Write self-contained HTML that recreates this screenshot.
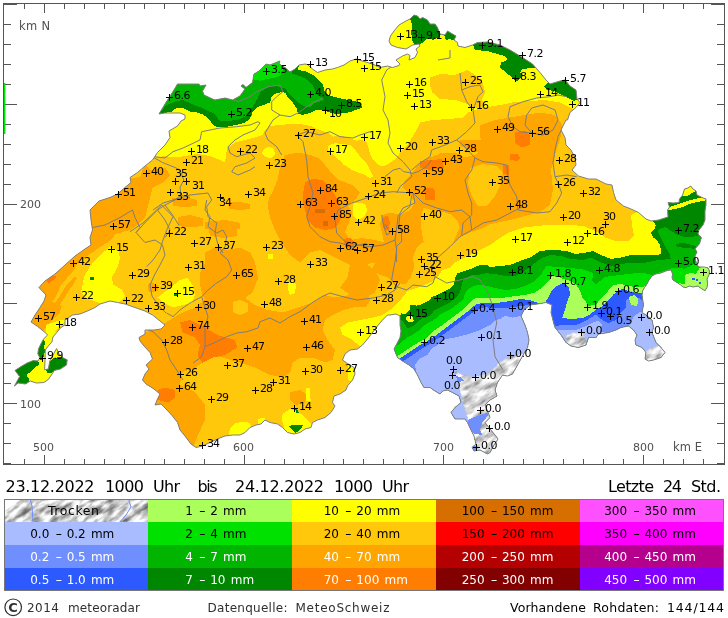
<!DOCTYPE html>
<html lang="de"><head><meta charset="utf-8"><title>Niederschlag 24 Std.</title>
<style>html,body{margin:0;padding:0;background:#fff}svg{display:block;opacity:0.999}text{font-family:"DejaVu Sans","Liberation Sans",sans-serif;font-weight:400}</style></head><body>
<svg width="728" height="618" viewBox="0 0 728 618">
<rect width="728" height="618" fill="#fff"/>
<defs><clipPath id="ch"><polygon points="55,274 65,265 75,256 85,249 91,245 90,237.5 92.5,230 91,220 90,210 99,201 110,197.5 117.5,194 125,187.5 131,182.5 130,177.5 137.5,172.5 145,166 152.5,160 157.5,152.5 165,145 170,137.5 169,131 177.5,126 181,121 185,119 185,115 180,113 165,113 159,114 165,104 174,90 177.5,84 199,84 200,86 206,85 202.5,91 204,95 212.5,99 215,100 225,98 232.5,100 240,96 245,89 241,86 243,84.5 246,87.5 252.5,82.5 254,74 259,71 262.5,67.5 266,64 270,65 280,61 279,64 285,67.5 290,72 295,69 299,65 305,64 307.5,64.5 312.5,69 317.5,72.5 325,70 332.5,69 337.5,67.5 344,65 350,61 356,59 362.5,61 372.5,64 380,67.5 387.5,66 392.5,67.5 399,65.5 400,64 396,60 402.5,56 407.5,54 410,55.5 409,60 415,57.5 417.5,52.5 416,49 420,46 419,44 412.5,45 406,49 397.5,47.5 391,45 389,41 390.5,36 394,31 399,25 406,21 410,19 414,15 417.5,16 420,19 422.5,17.5 427.5,20 430,24 435,24 437.5,27.5 440,34 445,35 447.5,31 452.5,34 456,36 454,40 457.5,42.5 458,46 465,47.5 472.5,45 477.5,42.5 487.5,42 500,45 510,50 522.5,57.5 532.5,64 540,72.5 546,80 550,84 560,81 565,80 570,86 576,90 577,99 580,102.5 576,107.5 570,112.5 567.5,120 566,120 561,130 565,137.5 566,145 571,150 575,157.5 576,165 572,170 578.5,176 588.5,179 596,179 606,184 612,185 613.5,192.5 616,200 623.5,206 631,209 638.5,212.5 646,219 651,221 658.5,220 668,217 667.6,210 669.5,207 668,202.5 673,203 679,202.5 679.5,199 682.6,195 684.5,189 688,188 690.75,186 693,189 696,191 697,195 702,197.5 706,199 706,205 705,211 705,220 703,225 699,230 698,234 701.4,237.5 699.5,243.75 695,248.75 697,252 695,256 695.75,261 697,265 699.5,267 704.5,267 708,268 709.5,271 709,275 707,279 707.6,284 707,287.5 705,290.6 702,289 698,286 693,287 689.5,286 686,287.5 683,287 680.75,285 677,282.5 673,280 672,277.5 672.6,274 671,270 667,270.6 660.75,273 655.75,274 652,276 649,280 647,284 644.5,287.5 642.6,291 642,295 643.5,305 642,312.5 646,315 652,320 653.5,327.5 652,332.5 656,342.5 661,347.5 665,352.5 661,357.5 653.5,360 648.5,361 645,359 646,352.5 642,347.5 636,345 635,340 637,335 633.5,330 628.5,326 621,327.5 616,330 608.5,332.5 598.5,334 596,337.5 588.5,337.5 586,345 578.5,347.5 571,346 566,342.5 561,335 555,327.5 553.5,322.5 551,312.5 552,305 546,302.5 537.5,304 530,305 524,310 521,316 525,325 527.5,332.5 529,340 527.5,347.5 522.5,356 517.5,365 512.5,374 507.5,376 502.5,375 497.5,382.5 495,390 497,396 490,400 485,405 487.5,411 490,417.5 485,422.5 490,429 495,435 498,439 494,445 490,452.5 487.5,454 480,450 474,451 472,447.5 476,444 474,436 471,430 467.5,422.5 465,419 455,419 451,412.5 455,407.5 461,402.5 459,396 452.5,392.5 447.5,390 442.5,391 440,394 435,391 430,387.5 424,387.5 421,382.5 417.5,375 414,369 409,365 402.5,361 397.5,357.5 396,354 394,349 397.5,342.5 400,337.5 401,331 400,325 400,316 396,314 390,315 387.5,315 382.5,320 377.5,326 372.5,332.5 367.5,339 362.5,345 357.5,349 350,350 345,354 342.5,360 346,362.5 354,367.5 355,374 352.5,380 347.5,386 346,390 340,394 334,396 332.5,402.5 335,406 331,412.5 325,417.5 317.5,420 312.5,422.5 311,427.5 305,429 300,432.5 294,434 287.5,432.5 282.5,427.5 277.5,424 270,422.5 265,420 261,424 256,425 250,427.5 245,432.5 240,435 232.5,435 225,436 217.5,439 210,442.5 202.5,446 196,447.5 191,444 185,436 180,430 177.5,422.5 172.5,416 166,409 161,404 155,405 157.5,399 160,394 154,389 146,384 142.5,380 145,374 149,369 146,365 152.5,359 150,352.5 144,346 140,341 139,337.5 145,334 145,330 154,330 161,329 165,325 160,321 152.5,315 145,311 135,307.5 125,304 117.5,302.5 110,301 100,304 95,307.5 87.5,311 80,314 72.5,315 65,320 65,325 60.4,328 56.6,332.7 52.9,337 52,341.7 48.3,346 45.3,350 45,360 44.6,369.7 48.3,369 49.8,361 52.9,355 56.6,348.5 58.9,353.8 63.4,358 67.2,359.8 66.5,365 60.4,369 54.4,370.4 51.4,375 48.3,379.5 43.8,382.5 36.3,383 30.2,381 25.7,384 18,383 14.4,386 19.6,376.5 15,370.4 21,366.6 27.2,362.9 33.2,360.6 37.8,361 40,358 37.8,353.8 38.5,349 41.5,342.5 43.8,338.7 47.6,335 45.3,332.7 37.8,326.6 31,322 35,315 40,307.5 44,301 46,295 39,287.5 45,281"/></clipPath>
<filter id="rl" x="0" y="0" width="1" height="1" color-interpolation-filters="sRGB"><feTurbulence type="fractalNoise" baseFrequency="0.07 0.2" numOctaves="3" seed="7" result="n"/><feColorMatrix in="n" type="matrix" values="1.3 0 0 0 0.14  1.3 0 0 0 0.14  1.3 0 0 0 0.14  0 0 0 0 1" result="g"/><feComposite in="g" in2="SourceGraphic" operator="in"/></filter><filter id="rl2" x="0" y="0" width="1" height="1" color-interpolation-filters="sRGB"><feTurbulence type="fractalNoise" baseFrequency="0.07 0.2" numOctaves="3" seed="7" result="n"/><feColorMatrix in="n" type="matrix" values="0.95 0 0 0 0.38  0.95 0 0 0 0.38  0.95 0 0 0 0.38  0 0 0 0 1" result="g"/><feComposite in="g" in2="SourceGraphic" operator="in"/></filter>
<clipPath id="tc"><rect x="4" y="499" width="144" height="23"/></clipPath>
</defs>
<g clip-path="url(#ch)" shape-rendering="crispEdges">
<rect x="0" y="0" width="728" height="470" fill="#ffc80a"/>
<polygon fill="#ffa500" points="140,177 145,164 150,170 165,167.5 170,175 162.5,182.5 152.5,187.5 150,197.5 147.5,207.5 145,217.5 137.5,225 130,230 115,234 113,238 107,243 100,247 93,252 85,257.5 78,263 73,271 67,278 61,285 57.5,293 54,299.5 50,304 44,313 40,326 25,326 25,280 60,250 85,230 85,200 120,180"/>
<polygon fill="#ffa500" points="74.8,277.2 76.8,278 72.9,285 68,291.7 64,298.5 60.3,304.4 58.3,310 54,316 48,318 52.5,310 55.4,302.4 60.3,295.6 64,288.8 69,282"/>
<polygon fill="#ffa500" points="31,322 36,312 44,301 50,300 56,304 62,306 60,312 54,318 48,324 44,330 40,330"/>
<polygon fill="#ffa500" points="285,155 297.5,152.5 310,154.8 318.3,158.2 324.9,164.8 331.6,173.1 338.2,179.8 352.5,185 360,192.5 355,200 347.5,205 352.5,212.5 350,220 345,232 350,240 362,238 375,240 385,242.5 392,243 385,250 375,257.5 367.5,265 375,270 380,280 375,292.5 365,297.5 350,295 340,287.5 347.5,277.5 350,265 340,260 330,255 320,250 310,252.5 300,262.5 290,255 280,240 275,230 270,217.5 267.5,205 270,195 272.5,192.5 277.5,180 280,167.5"/>
<polygon fill="#ffa500" points="480,125 495,120 510,117.5 525,115 540,112.5 555,115 562.5,125 560,140 555,155 551,170 553,190 550,205 540,212 525,216 510,220 500,222 490,224 483,228 470,232.5 460,237 453,243 440,239 427,240 417,246 410,240 400,240 390,242.5 382.5,235 380,225 382.5,215 390,212.5 400,215 410,210 415,202.5 410,195 402.5,187.5 405,180 412.5,172.5 420,162.5 430,157.5 442.5,152.5 455,152.5 465,157.5 475,155 482.5,147.5 480,135"/>
<polygon fill="#ffc80a" points="470,168 482,164 496,166 503,172 500,186 495,196 487,206 478,206 472,196 468,184"/>
<polygon fill="#ffa500" points="340,235 355,242.5 372.5,240 385,242.5 400,240 410,236 417,244 413,257 414,267 411,277 406,284 402,283 399,270 395,262 380,262 366,264 366,285 370,300 366,307 356.7,306.7 343,310 330,316.7 325,320 322,305 335,297.5 350,295 340,287.5 347.5,277.5 350,265 340,260"/>
<polygon fill="#ffa500" points="380,222 455,220 452,232 445,238 432,239 424,241 417,247 413,257 414,267 411,277 406,284 395,283 387.5,277.5 380,275 372,270 378,255 385,248"/>
<polygon fill="#ffa500" points="205,252.5 215,247.5 227.5,250 240,247.5 250,252.5 255,262.5 257.5,275 257.5,280 252.5,292.5 245,298 255,305 267.5,310 282.5,312.5 297.5,307.5 312.5,302.5 325,295 335,297.5 340,305 335,312.5 325,320 322.5,330 327.5,340 335,350 332.5,360 325,362.5 312.5,357.5 300,357.5 292.5,362.5 290,372.5 282.5,377.5 270,375 255,367.5 240,362.5 230,360 222,357 212.5,357.5 202.5,362.5 195,368 182,372 180,385 195,392 205,405 205,420 198,435 192,450 170,450 150,410 138,380 136,340 140,332 145,332.5 157.5,327.5 170,320 182.5,312.5 195,307.5 205,300 202.5,295 200,285 200,272.5 205,262.5"/>
<polygon fill="#ffc80a" points="232.5,302 240,300 247.5,303 247.5,312 240,315 232.5,312"/>
<polygon fill="#ffc80a" points="423.2,208 431.5,209.8 441.5,211.5 451.4,214.8 458,221.5 459.7,228 456.4,234.8 453,243 448,249.7 441.5,253 433,253 426.5,249.7 423.2,239.7 421.5,229.8 420.7,218"/>
<polygon fill="#ffa500" points="290,392 300,390 307.5,395 305,403 295,405 290,400"/>
<polygon fill="#ffa500" points="177.5,217 190,215 202.5,218 202.5,226 190,227.5 178,226"/>
<polygon fill="#ffa500" points="205,222 225,220 240,223 240,229 225,230 205,229"/>
<polygon fill="#ffa500" points="208,224 222,222 237,226 237,236 225,238 210,236"/>
<polygon fill="#ffa500" points="172,198 185,197 197,200 197,206 185,207 173,206"/>
<polygon fill="#ffa500" points="228,202 240,202 250,204 250,209 240,210 229,209"/>
<polygon fill="#ffa500" points="147.5,284 152,282.5 157.5,285 157.5,291 152,292.5 148,291"/>
<polygon fill="#ffa500" points="460,140 482,140 482,154 470,150 460,146"/>
<polygon fill="#ff7d00" points="305,182.5 312.5,179 322.5,180 330,187.5 335,195 340,205 342.5,215 337.5,225 335,228 325,230 315,227.5 307.5,220 305,210 302.5,197.5"/>
<polygon fill="#d76e00" points="315,209 325,209 325,212.5 315,212.5"/>
<polygon fill="#d76e00" points="322.5,221 328,221 328,225.5 322.5,225.5"/>
<polygon fill="#ff7d00" points="344,239 350,237.5 354,241 354,246 349,248 344,245"/>
<polygon fill="#ff7d00" points="382.5,217 388,216 390,222 389,229 384,230 382.5,224"/>
<polygon fill="#ff7d00" points="425,188 433,187.5 435,192 433,197.5 426,197 424,192"/>
<polygon fill="#ff7d00" points="420,161 442,159 444,168 430,170 420,168"/>
<polygon fill="#ff7d00" points="515,132.5 525,131 530,136 530,145 522,147.5 515,143"/>
<polygon fill="#ff7d00" points="510,154 518,154 520,158 517,161 510,160"/>
<polygon fill="#ff7d00" points="502.5,165 509,165 509,175 503,174"/>
<polygon fill="#ff7d00" points="425,190 435,190 435,200 425,200"/>
<polygon fill="#ff7d00" points="180,322.5 190,320 205,327.5 217.5,335 235,340 237.5,347.5 225,355 212.5,357.5 202.5,362.5 197.5,355 200,345 195,337.5 182.5,332.5"/>
<polygon fill="#ff7d00" points="157.5,390 165,387.5 175,390 175,398 168,402.5 158,400"/>
<polygon fill="#ff7d00" points="46.7,281 52,276 56.4,275.5 55,279 49,283"/>
<polygon fill="#ffff00" points="152.5,157.5 155,157.5 165,156 175,157.5 185,156 197.5,154 210,156 220,160 225,162.5 226,155 227.5,147.5 235,142.5 245,140 255,137.5 262.5,135 265,130 270,126 280,125 290,124 300,124 310,125.8 320,130 328.2,133.2 333.2,136.6 341.5,135.7 349.8,138.2 356.5,140.7 361.5,140 366.4,141.5 368,146.5 369.7,153.2 373,159.8 378,164.8 383,166.5 389.7,163.1 396.3,158.2 400,152.5 407.5,145 415,132.5 420,122.5 432.5,120 450,119 462.5,117.5 467.5,112.5 475,110 485,107.5 500,105 512.5,102.5 530,101 545,100 560,102.5 570,107.5 575,110 600,110 600,0 130,0 130,157"/>
<polygon fill="#ffc80a" points="430,77.5 440,74 455,75 467.5,70 475,75 482.5,82.5 485,92.5 482,99 485,108 474,108 465,103 455,100 440,99 432.5,92.5 430,85"/>
<polygon fill="#ffff00" points="328.2,145.7 334.9,143.2 343.2,144 351.5,145.7 356.5,151.5 361.5,158.2 366.4,163.1 369.7,169.8 373,176.4 369.7,178 364.8,174.8 359.8,173.1 353.1,170.6 348.2,167.3 343.2,164.8 341.5,161.5 336.5,158.2 333.2,154.8 328.2,151.5"/>
<polygon fill="#ffff00" points="264,149 269,146.5 274,149 275,154 271,158 265,157 262,153"/>
<polygon fill="#ffff00" points="352.5,204 358,202.5 365,204 367.5,210 364,217 358,220 353,216"/>
<polygon fill="#ffff00" points="109.9,247 118.4,250.5 120,259 116.7,269 111.6,277.7 113.3,284.5 121.8,289.6 125,296.4 120,301.5 111.6,302.3 99.7,303 92.9,300.6 86,298 81,293 82.7,284.5 84.4,276 89.5,267.5 94.6,260.7 101.4,253.9"/>
<polygon fill="#ffff00" points="167.5,290 180,280 187.5,277.5 192.5,285 195,295 192.5,302.5 182.5,305 172.5,307.5 162.5,302.5 157.5,297.5"/>
<polygon fill="#ffff00" points="46,325 60,320 66,320 56,331 50,336 46,334"/>
<polygon fill="#ffff00" points="40,334 60,331 70,345 70,390 10,390 10,360 36,340"/>
<polygon fill="#ffff00" points="340,327.5 347.5,322.5 360,320 372.5,317.5 382.5,315 390,310 397.5,302.5 402.5,297.5 407.5,291 417.5,287.5 430,282.5 437.5,277.5 442.5,270 450,267.5 455,262.5 465,257.5 480,250 490,245 500,238 510,232 525,227 540,226 546,224.5 571,225 583.5,226 598.5,232.5 606,238 615,241 628,241 634,236 632,225 631,215 638.5,211 660,200 680,300 400,360 362,348 352.5,340 342.5,335"/>
<polygon fill="#ffff00" points="347.5,362.5 355,365 356,375 352.5,382.5 348,380"/>
<polygon fill="#ffff00" points="282.7,413.7 290.4,408.8 296,410.8 302,414.6 307.7,420.4 311.5,424 313,437 285,437 283.7,426 281.7,418.5"/>
<polygon fill="#ffff00" points="230,428 236,423 244,421.5 250,423 252,430 246,436 236,440 228,440"/>
<polygon fill="#ffff00" points="258,419 264,417.5 266,421 262,425 258,424"/>
<polygon fill="#ffff00" points="305.8,388 310,388 310.6,401 306.5,401"/>
<polygon fill="#ffff00" points="287.5,282 292,281 296,285 295,293 290,295 288,290"/>
<polygon fill="#ffff00" points="267.5,254 272.5,254 272.5,259 267.5,259"/>
<polygon fill="#008700" points="150,118 159,114 171.6,111.5 176.6,108 183,108 190,111.5 195,111.9 202.5,114.4 207.5,117.5 211.25,122.5 215,126.25 220,127.5 226.25,126.9 232.5,125.6 238.75,124.4 245,122.5 250,118.75 253,111.25 257.5,106.9 265,104.4 270,102.5 271.25,97.5 275,93.75 282.5,91.9 286,93.75 288.2,98.2 293.2,103.2 296.5,108.1 298.1,114 303.1,114.8 309.8,113.1 316.4,109.8 323,110.6 329.7,112.3 336.3,114 343,113.1 349.6,112.3 356.3,109.8 362,107.5 360,102.5 352.5,100.5 342.5,99 332.5,96.5 328,95 324.7,91.5 323,85 318,80 313,75 306.5,71.6 298,70 300,60 150,55"/>
<polygon fill="#00b400" points="150,118 159,114 166.6,105 175,101.5 183,100 190,103 195,105.6 202.5,108 208.75,111.25 213.75,113 216.9,116.25 218,120 223.75,121.25 231.25,120.6 238.75,119.4 245,116.9 250,110 253.75,105 257.5,98.75 260,92.5 265,88.75 270,86.25 277.5,86.25 286,88.75 288.2,93.2 291.5,96.5 296.5,101.5 301.5,104.8 306.4,107.3 311.4,106.5 314.7,103.2 319.7,101.5 324.7,99.8 323,98.2 318.1,95.7 315.6,91.5 313.1,85.7 308.1,80.7 303.1,77.4 296.5,74.9 291.5,73.3 296,60 150,55"/>
<polygon fill="#00e100" points="250,76.6 256.6,70 261.6,66.6 266.6,60 285,58 283,70 280,75.7 273,78 266.6,79 260,80.7 255,80"/>
<polygon fill="#008700" points="410,19 414,13 421,14 430,22 435,22 438,27.5 441,34 439,37.5 432.5,40 427.5,37.5 425,41 420,44.5 415,45.5 412.5,41 411,32.5 412.5,25"/>
<polygon fill="#008700" points="444,35 447.5,30 453,33 457,36 454,40.5 450,39 446,40"/>
<polygon fill="#008700" points="473,45 477.5,41 487.5,40 500,43 512,50 524,57 534,64 535,67.5 522.5,69 520,72.5 522,76 517.5,81 514,80 509,75 500,67.5 501,62.5 507.5,60 505,56 497.5,54 487.5,51 475,50"/>
<polygon fill="#008700" points="544,86 549,82 560,79 566,78 571,85 578,89 579,99 574,101 567.5,97.5 560,94 555,91 547.5,90"/>
<polygon fill="#008700" points="13,371 21,366 27.2,362 33.2,360 37.8,360.5 39.3,364.4 34.7,367.4 30.2,372 26.4,375 29.5,379.5 27.2,385 18,385 13,388 19.6,376.5"/>
<polygon fill="#008700" points="49.8,361.4 52.9,358.3 58.9,357 63.4,357 68.5,359.8 67.5,366 60.4,370 54.4,371 51.4,373.4 46.8,372.7 46,369 48.3,364.4"/>
<polygon fill="#008700" points="40,344.7 43.8,339.5 45.3,342.5 43.8,347.8 45.8,350 43.8,355 43,360 40,360.6 37,353.8 38,349"/>
<polygon fill="#008700" points="90,276.5 93.5,276.5 93.5,280 90,280"/>
<polygon fill="#008700" points="174,292.5 178,292.5 178,296 174,296"/>
<polygon fill="#008700" points="295,409 297,409.5 299,413.5 296.5,413"/>
<polygon fill="#008700" points="288.5,426 296,424.5 303,425.5 299,431 295,433 292,429"/>
<polygon fill="#008700" points="288.5,426 296,424.5 303,425.5 299,431 295,433 292,429"/>
<polygon fill="#008700" points="380,330 400,315.75 401.25,313.25 405,314.5 406.9,312 408.75,310.75 410.6,308.25 410,304.5 412.5,304.5 416.25,305.75 421.25,304.5 426.25,302 430,299.5 431.25,297 435,295.75 440,293.25 445,290.75 450,288.25 453.75,284.5 455,278.25 457.5,273.25 465,270.75 472.5,268.25 477.5,265.75 486,264.5 490,267 500,266 510,265 520,261 530,257.5 540,251 550,250 556,250 566,251 576,254 586,252.5 593.5,251 601,255 611,259 621,257.5 631,255 646,255 656,255 661,254 661,250 660,245 657,240 653,237.5 650.75,233 655,229 655.75,225 653,221 651,215 665,175 730,175 730,470 380,470"/>
<polygon fill="#ffff00" points="406.25,317 410,314.5 412.5,317 413.75,320.75 411.25,322.6 407.5,321.4 406.25,319.5"/>
<polygon fill="#ffff00" points="684.5,189 688,188 690.75,185 693,189 696,191 687,196 682,196 682.6,195"/>
<polygon fill="#ffff00" points="669.5,207 678,204 687,201 694.5,199 702,197.5 707,199 704.5,200.6 697,202 689.5,204 683,207 674.5,209 667,210.8"/>
<polygon fill="#00b400" points="380,335 400,319.5 402.5,320.75 405,324.5 407.5,328.25 411.25,327 415,324.5 418.75,320.75 422.5,318.25 427.5,317 431.25,314.5 433.75,310.75 438.75,308.25 443.75,305.75 448.75,303.25 453.75,299.5 457.5,295.75 460,292 461.25,287 462.5,282 465,278.25 470,275.75 475,274.5 480,274.5 486,273.25 495,274 505,276 515,276 522.5,272.5 532.5,265 542.5,257.5 550,255 561,256 571,259 583.5,260 591,257.5 601,262.5 611,266 621,264 633.5,262.5 646,262.5 658.5,260 662,260 668.5,259 670.75,258.75 669.5,253.75 665.75,247.5 662,240 657.6,231 660,229 665.75,227 669.5,230 678,235 687,237.5 697,236 705,232 730,232 730,470 380,470"/>
<polygon fill="#008700" points="675.75,243.75 684.5,243 695.75,246 697,249 687,248 677,247"/>
<polygon fill="#00e100" points="380,360 398,345 407.5,337 412.5,334.5 416.25,332 420,329.5 423.75,325.75 427.5,323.25 432.5,320.75 436.25,318.25 440,314.5 445,312 450,309.5 455,305.75 460,302 463.75,298.25 465,293.25 468.75,288.25 475,285.75 481.25,284.5 486,285.75 495,288 505,290 515,289 525,286 535,281 542,273 546,266 558.5,267 571,268 583.5,269.5 593.5,273 592,281 596,284.5 600,281 605,277 613.5,275.75 623.5,274.5 637,273 644.5,273 652,275 660,272 672,268 678,267.5 684.5,268.75 690.75,266 695.75,262.5 730,262 730,470 380,470"/>
<polygon fill="#aaff5a" points="380,370 397.5,356 402.5,352.5 410,347.5 417.5,343 425,339 428.75,335.75 432.5,332 437.5,328.25 441.25,325.75 446.25,322 451.25,318.25 456.25,314.5 461.25,310.75 466.25,305.75 470,302 475,298.25 480,298.25 486,298.25 495,298 505,297.5 515,296 525,295 535,292.5 540,289 547.5,282.5 552,276 558.5,277 565,279.5 571,281 576,284.5 580,290.75 582,297 586,302 588.5,305.75 596,305 601,298 607,293 610,288 613.5,285 621,284 631,286.4 637,287 643,287.5 650,282 684,283 685,275 690.75,273 695.75,273.75 699.5,268 704,266 730,266 730,470 380,470"/>
<polygon fill="#00e100" points="650,281 684.5,283.75 684.5,278.75 685,275 672,276 660,272"/>
<polygon fill="#2d5aff" points="380,375 399,359 405,355 412.5,350 420,345 427.5,341 433.75,337 438.75,333.25 443.75,329.5 448.75,325.75 453.75,322 458.75,318.25 463.75,314.5 468.75,310.75 472.5,307 476.25,304.5 481.25,303.25 486,303.25 490,303.5 500,302.5 510,301 520,299 530,300 538,303 540,304 540,470 380,470"/>
<polygon fill="#2d5aff" points="546,300 547,299.5 551,292 557,285.75 563.5,282.6 569,287 570,294.5 567,302 565,309.5 562,318 571,319 583.5,318 590,314.5 596,309.5 601,307 606,303 610,298 613.5,294.5 618.5,290 623.5,289 631,292 637,293 643,292.5 660,292 670,370 546,370"/>
<polygon fill="#2d5aff" points="692,277.5 694.5,277.5 694.5,279.5 692,279.5"/>
<polygon fill="#2d5aff" points="695.75,278.75 698,278.75 698,280.6 695.75,280.6"/>
<polygon fill="#2d5aff" points="699,282 700.75,282 700.75,283.75 699,283.75"/>
<polygon fill="#6f8fff" points="380,380 400,364 405,360 412.5,355 420,350 427.5,345.5 434,341 440,337 445,333.25 450,329.5 455,325.75 460,322 465,318.25 470,314.5 475,310.75 480,308.25 486,307 490,308 500,307.5 510,307.5 520,306 530,305 540,306 540,470 380,470"/>
<polygon fill="#6f8fff" points="546,327 553.5,326 565,325 577,324.5 583.5,322 590,318 596,314.5 598.5,317 603.5,320.75 608.5,323 616,320 620,313 626,308 626,300 632,297 640,298 646,305 660,310 670,370 546,370"/>
<polygon fill="#aaff5a" points="628.5,297 634,295 638.5,299 637,306 631,305"/>
<polygon fill="#a9bcff" points="412,470 416,371 415,365 419,359 427.5,355 431,349 437.5,345 446,339 455,337.5 465,335 472,333 480,330 490,325 495,320 500,319 505,316 512.5,317.5 520,316 525,312.5 530,310 540,310 540,470"/>
<polygon fill="#a9bcff" points="546,331 555,329.5 565,330 577,329.5 587,325.75 593.5,322 598.5,320.75 602,324.5 600,332 610,333 620,329 630,325 634,316 640,312 660,312 670,370 546,370"/>
<polygon fill="#ccc" filter="url(#rl2)" transform="rotate(-35 455 371)" points="455.0,371.0 458.8,378.6 467.7,387.8 480.8,390.9 493.3,390.5 502.8,389.8 511.3,390.9 518.0,394.4 526.2,400.1 459.7,495.1 417.1,465.3 430.3,442.8 432.6,433.5 436.3,423.8 438.6,416.3 440.8,408.7 444.5,399.1 448.2,389.4 451.9,379.8"/>
<polygon fill="#6f8fff" points="480,415 487.5,412.5 487.5,416 482.5,422.5 480,430 482.5,435 475,434 470,430 467.5,420 472.5,417.5"/>
<polygon fill="#6f8fff" points="471,446 477,446 477,452 471,452"/>
<polygon fill="#6f8fff" points="456,376 462,378 464,381 458,382"/>
<polygon fill="#ccc" filter="url(#rl2)" transform="rotate(-35 566 336)" points="566.0,336.0 574.6,337.7 581.9,344.7 580.1,350.7 575.5,357.3 559.1,345.8"/>
<polygon fill="#ccc" filter="url(#rl2)" transform="rotate(-35 645 352)" points="645.0,352.0 651.4,351.6 659.1,354.5 663.8,365.2 654.8,371.1 639.3,360.2"/>
</g>
<g clip-path="url(#ch)" fill="none" stroke="#7d7d7d" stroke-width="1">
<polyline points="155,156.7 165,158 173,151.7 183,148 200,140 201.7,131.7 220,128 236.7,126.7 250,125 258,121.7 260,123 255,130 243,135 235,140 228,146.7 230,153 236.7,156.7 250,153 255,158 246.7,163 235,166.7 231.7,171.7 238,175 250,170 255,166.7"/>
<polyline points="226.7,96.7 238,101.7 250,96.7 256.7,91.7 268,86.7 280,85 283,91.7 276.7,96.7 271.7,101.7 271.7,110 280,115 290,116.7 298,113 306.7,106.7 315,101.7 323,98"/>
<polyline points="280,115 273,120 265,133 268,140 276.7,146.7 281.7,155"/>
<polyline points="296.7,135 303,141.7 306.7,160 308,176.7 313,193 310,206.7 306.7,216.7 310,226.7 320,236.7 330,241.7 340,243 353,246.7 366.7,243"/>
<polyline points="296.7,135 306.7,131.7 320,135 330,131.7 340,136.7 353,138 360,135 370,131.7"/>
<polyline points="153,210 163,203 173,200 190,195 208,193 211.7,200 206.7,206.7 208,216.7 216.7,223 215,233 218,245 223,253"/>
<polyline points="396.7,63 386.7,70 381.7,80 385,96.7 383,110 388,120 390,133 388,143 393,153 403,161.7 410,170 411.7,176.7 400,186.7 396.7,193"/>
<polyline points="438,60 450,58 450,50"/>
<polyline points="460,73 461.7,90 466.7,101.7 473,110 475,123 466.7,131.7 456.7,140 445,145 431.7,150 430,156.7 420,163 411.7,170"/>
<polyline points="461.7,90 470,86.7 480,85 483,91.7 478,96.7 473,110"/>
<polyline points="510,106.7 523,101.7 536.7,98 550,96.7 558,95 566.7,96.7"/>
<polyline points="531.7,108 543,105 555,110 558,120 553,130 543,135 531.7,133 525,125 526.7,115 531.7,108"/>
<polyline points="510,106.7 508,116.7 513,126.7 520,131.7 531.7,133"/>
<polyline points="456.7,140 463,145 475,158 483,161.7 496.7,163 506.7,165 508,176.7 510,185 516.7,196.7 518,210 536.7,213 550,211.7 556.7,203 561.7,193 558,183 555,176.7 553,163 555,150 558,136.7 563,126.7"/>
<polyline points="555,176.7 566.7,175 576.7,176.7"/>
<polyline points="475,158 471.7,170 465,180 468,193 471.7,203 471.7,215 463,223 461.7,235"/>
<polyline points="206.7,200 205,210 210,216.7 208,226.7 216.7,233 223,230 226.7,236.7 225,246.7 220,253 228,260 231.7,270 226.7,276.7 216.7,283 208,290 201.7,296.7 190,303 180,310 173,316.7 166.7,313"/>
<polyline points="143,328 153,331.7 161.7,340 166.7,350 170,360 176.7,370 183,380"/>
<polyline points="201.7,296.7 208,316.7 205,326.7 205,346.7 201.7,356.7 193,363"/>
<polyline points="205,346.7 216.7,341.7 226.7,336.7 236.7,333 246.7,331.7 258,328 260,321.7 270,318 280,323 290,316.7 300,311.7 311.7,303 321.7,296.7 330,293 343,296.7 356.7,300 372.7,298 386.7,295 395,290 400,283"/>
<polyline points="130,231.7 143,223 156.7,210 161.7,205 173,216.7 166.7,230 163,240 160,250 153,260 146.7,266.7"/>
<polyline points="92.5,227.5 105,225 120,217.5 132.5,210 135,217.5 140,227.5 136,232.5 145,242.5 155,240 162.5,245 165,255 160,265 155,274 150,285 152,296 158,305 166,313"/>
<polyline points="153.75,157.5 162.5,162.5 175,167.5 180,170 183.75,180 180,187.5 181,195 190,197.5"/>
<polyline points="136,232.5 147.5,220 157.5,210 165,205 175,200 181,195"/>
<polyline points="157.5,210 165,220 170,230 165,237.5"/>
<polyline points="165,205 172.5,215 178.75,225"/>
<polyline points="435,276.7 446.7,283 460,280 473,276.7 480,280 486.7,290 493,306.7 496.7,323 493,340 495,356.7 503,370"/>
<polyline points="335,220 338,210 351.7,203 366.7,198 380,193 393,191.7 413,193 415,203 403,208 398,216.7 396.7,228 395,240 396.7,250 395,261.7 393,271.7 391.7,280 396.7,286.7 406.7,290 413,285 426.7,286.7 433,283 435,276.7"/>
<polyline points="335,220 336.7,233 345,241.7 358,245 370,246.7 383,245 395,240"/>
<polyline points="381.7,215 383,223 386.7,235 390,233 385,224"/>
<polyline points="413,193 423,203 436.7,208 450,211.7 461.7,210 470,216.7 471.7,230 460,236.7 450,246.7 443,253 435,260 431.7,270 435,276.7"/>
<polyline points="471.7,230 483,223 496.7,220 510,213 522.7,206.7"/>
<polyline points="411.6,195.7 410,206.5 400,214.8 399,223 401.6,233 401.6,241.4 396.6,246.4 396.6,262"/>
<polyline points="385,176.6 393.3,170 400,168.3 403.3,171.6 413.2,173.3 418.2,171.6 426.5,166.6 431.5,160"/>
</g>
<polygon points="55,274 65,265 75,256 85,249 91,245 90,237.5 92.5,230 91,220 90,210 99,201 110,197.5 117.5,194 125,187.5 131,182.5 130,177.5 137.5,172.5 145,166 152.5,160 157.5,152.5 165,145 170,137.5 169,131 177.5,126 181,121 185,119 185,115 180,113 165,113 159,114 165,104 174,90 177.5,84 199,84 200,86 206,85 202.5,91 204,95 212.5,99 215,100 225,98 232.5,100 240,96 245,89 241,86 243,84.5 246,87.5 252.5,82.5 254,74 259,71 262.5,67.5 266,64 270,65 280,61 279,64 285,67.5 290,72 295,69 299,65 305,64 307.5,64.5 312.5,69 317.5,72.5 325,70 332.5,69 337.5,67.5 344,65 350,61 356,59 362.5,61 372.5,64 380,67.5 387.5,66 392.5,67.5 399,65.5 400,64 396,60 402.5,56 407.5,54 410,55.5 409,60 415,57.5 417.5,52.5 416,49 420,46 419,44 412.5,45 406,49 397.5,47.5 391,45 389,41 390.5,36 394,31 399,25 406,21 410,19 414,15 417.5,16 420,19 422.5,17.5 427.5,20 430,24 435,24 437.5,27.5 440,34 445,35 447.5,31 452.5,34 456,36 454,40 457.5,42.5 458,46 465,47.5 472.5,45 477.5,42.5 487.5,42 500,45 510,50 522.5,57.5 532.5,64 540,72.5 546,80 550,84 560,81 565,80 570,86 576,90 577,99 580,102.5 576,107.5 570,112.5 567.5,120 566,120 561,130 565,137.5 566,145 571,150 575,157.5 576,165 572,170 578.5,176 588.5,179 596,179 606,184 612,185 613.5,192.5 616,200 623.5,206 631,209 638.5,212.5 646,219 651,221 658.5,220 668,217 667.6,210 669.5,207 668,202.5 673,203 679,202.5 679.5,199 682.6,195 684.5,189 688,188 690.75,186 693,189 696,191 697,195 702,197.5 706,199 706,205 705,211 705,220 703,225 699,230 698,234 701.4,237.5 699.5,243.75 695,248.75 697,252 695,256 695.75,261 697,265 699.5,267 704.5,267 708,268 709.5,271 709,275 707,279 707.6,284 707,287.5 705,290.6 702,289 698,286 693,287 689.5,286 686,287.5 683,287 680.75,285 677,282.5 673,280 672,277.5 672.6,274 671,270 667,270.6 660.75,273 655.75,274 652,276 649,280 647,284 644.5,287.5 642.6,291 642,295 643.5,305 642,312.5 646,315 652,320 653.5,327.5 652,332.5 656,342.5 661,347.5 665,352.5 661,357.5 653.5,360 648.5,361 645,359 646,352.5 642,347.5 636,345 635,340 637,335 633.5,330 628.5,326 621,327.5 616,330 608.5,332.5 598.5,334 596,337.5 588.5,337.5 586,345 578.5,347.5 571,346 566,342.5 561,335 555,327.5 553.5,322.5 551,312.5 552,305 546,302.5 537.5,304 530,305 524,310 521,316 525,325 527.5,332.5 529,340 527.5,347.5 522.5,356 517.5,365 512.5,374 507.5,376 502.5,375 497.5,382.5 495,390 497,396 490,400 485,405 487.5,411 490,417.5 485,422.5 490,429 495,435 498,439 494,445 490,452.5 487.5,454 480,450 474,451 472,447.5 476,444 474,436 471,430 467.5,422.5 465,419 455,419 451,412.5 455,407.5 461,402.5 459,396 452.5,392.5 447.5,390 442.5,391 440,394 435,391 430,387.5 424,387.5 421,382.5 417.5,375 414,369 409,365 402.5,361 397.5,357.5 396,354 394,349 397.5,342.5 400,337.5 401,331 400,325 400,316 396,314 390,315 387.5,315 382.5,320 377.5,326 372.5,332.5 367.5,339 362.5,345 357.5,349 350,350 345,354 342.5,360 346,362.5 354,367.5 355,374 352.5,380 347.5,386 346,390 340,394 334,396 332.5,402.5 335,406 331,412.5 325,417.5 317.5,420 312.5,422.5 311,427.5 305,429 300,432.5 294,434 287.5,432.5 282.5,427.5 277.5,424 270,422.5 265,420 261,424 256,425 250,427.5 245,432.5 240,435 232.5,435 225,436 217.5,439 210,442.5 202.5,446 196,447.5 191,444 185,436 180,430 177.5,422.5 172.5,416 166,409 161,404 155,405 157.5,399 160,394 154,389 146,384 142.5,380 145,374 149,369 146,365 152.5,359 150,352.5 144,346 140,341 139,337.5 145,334 145,330 154,330 161,329 165,325 160,321 152.5,315 145,311 135,307.5 125,304 117.5,302.5 110,301 100,304 95,307.5 87.5,311 80,314 72.5,315 65,320 65,325 60.4,328 56.6,332.7 52.9,337 52,341.7 48.3,346 45.3,350 45,360 44.6,369.7 48.3,369 49.8,361 52.9,355 56.6,348.5 58.9,353.8 63.4,358 67.2,359.8 66.5,365 60.4,369 54.4,370.4 51.4,375 48.3,379.5 43.8,382.5 36.3,383 30.2,381 25.7,384 18,383 14.4,386 19.6,376.5 15,370.4 21,366.6 27.2,362.9 33.2,360.6 37.8,361 40,358 37.8,353.8 38.5,349 41.5,342.5 43.8,338.7 47.6,335 45.3,332.7 37.8,326.6 31,322 35,315 40,307.5 44,301 46,295 39,287.5 45,281" fill="none" stroke="#808080" stroke-width="1"/>
<path d="M3.5,3.5H724.5V464.5H3.5ZM24.5,4V9M24.5,464V459M44.5,4V13M44.5,464V455M64.5,4V9M64.5,464V459M84.5,4V9M84.5,464V459M104.5,4V9M104.5,464V459M124.5,4V9M124.5,464V459M144.5,4V9M144.5,464V459M164.5,4V9M164.5,464V459M184.5,4V9M184.5,464V459M204.5,4V9M204.5,464V459M224.5,4V9M224.5,464V459M244.5,4V13M244.5,464V455M264.5,4V9M264.5,464V459M284.5,4V9M284.5,464V459M303.5,4V9M303.5,464V459M323.5,4V9M323.5,464V459M343.5,4V9M343.5,464V459M363.5,4V9M363.5,464V459M383.5,4V9M383.5,464V459M403.5,4V9M403.5,464V459M423.5,4V9M423.5,464V459M443.5,4V13M443.5,464V455M463.5,4V9M463.5,464V459M483.5,4V9M483.5,464V459M503.5,4V9M503.5,464V459M523.5,4V9M523.5,464V459M543.5,4V9M543.5,464V459M563.5,4V9M563.5,464V459M583.5,4V9M583.5,464V459M603.5,4V9M603.5,464V459M623.5,4V9M623.5,464V459M643.5,4V13M643.5,464V455M663.5,4V9M663.5,464V459M683.5,4V9M683.5,464V459M703.5,4V9M703.5,464V459M4,4.5H17M724,4.5H711M4,24.5H11M724,24.5H717M4,44.5H11M724,44.5H717M4,64.5H11M724,64.5H717M4,84.5H11M724,84.5H717M4,104.5H17M724,104.5H717M4,124.5H11M724,124.5H717M4,144.5H11M724,144.5H717M4,164.5H11M724,164.5H717M4,184.5H11M724,184.5H717M4,204.5H17M724,204.5H711M4,224.5H11M724,224.5H717M4,243.5H11M724,243.5H717M4,263.5H11M724,263.5H717M4,283.5H11M724,283.5H717M4,303.5H17M724,303.5H717M4,323.5H11M724,323.5H717M4,343.5H11M724,343.5H717M4,363.5H11M724,363.5H717M4,383.5H11M724,383.5H717M4,403.5H17M724,403.5H711M4,423.5H11M724,423.5H717M4,443.5H11M724,443.5H717M4,463.5H11M724,463.5H717" fill="none" stroke="#555555" stroke-width="1" shape-rendering="crispEdges"/>
<rect x="4" y="83" width="1.4" height="51" fill="#00e600"/>
<text x="19" y="30" font-size="11.5" fill="#505050" textLength="31" lengthAdjust="spacing">km N</text>
<text x="20" y="207.5" font-size="11" fill="#505050" textLength="21" lengthAdjust="spacing">200</text>
<text x="20" y="407.5" font-size="11" fill="#505050" textLength="21" lengthAdjust="spacing">100</text>
<text x="33" y="451" font-size="11" fill="#505050" textLength="21" lengthAdjust="spacing">500</text>
<text x="233" y="451" font-size="11" fill="#505050" textLength="21" lengthAdjust="spacing">600</text>
<text x="433" y="451" font-size="11" fill="#505050" textLength="21" lengthAdjust="spacing">700</text>
<text x="633" y="451" font-size="11" fill="#505050" textLength="21" lengthAdjust="spacing">800</text>
<text x="673" y="451" font-size="11.5" fill="#505050" textLength="29" lengthAdjust="spacing">km E</text>
<text x="271" y="73" font-size="11" fill="#000" textLength="16.5" lengthAdjust="spacing">3.5</text>
<text x="315" y="66" font-size="11" fill="#000" textLength="13" lengthAdjust="spacing">13</text>
<text x="174" y="99" font-size="11" fill="#000" textLength="16.5" lengthAdjust="spacing">6.6</text>
<text x="236" y="116" font-size="11" fill="#000" textLength="16.5" lengthAdjust="spacing">5.2</text>
<text x="315" y="96" font-size="11" fill="#000" textLength="16.5" lengthAdjust="spacing">4.0</text>
<text x="346" y="107" font-size="11" fill="#000" textLength="16.5" lengthAdjust="spacing">8.5</text>
<text x="329" y="117" font-size="11" fill="#000" textLength="13" lengthAdjust="spacing">10</text>
<text x="303" y="137" font-size="11" fill="#000" textLength="13" lengthAdjust="spacing">27</text>
<text x="196" y="153" font-size="11" fill="#000" textLength="13" lengthAdjust="spacing">18</text>
<text x="245" y="153" font-size="11" fill="#000" textLength="13" lengthAdjust="spacing">22</text>
<text x="335" y="153" font-size="11" fill="#000" textLength="13" lengthAdjust="spacing">17</text>
<text x="191" y="164" font-size="11" fill="#000" textLength="13" lengthAdjust="spacing">21</text>
<text x="274" y="167" font-size="11" fill="#000" textLength="13" lengthAdjust="spacing">23</text>
<text x="151" y="175" font-size="11" fill="#000" textLength="13" lengthAdjust="spacing">40</text>
<text x="175" y="177" font-size="11" fill="#000" textLength="13" lengthAdjust="spacing">35</text>
<text x="192" y="189" font-size="11" fill="#000" textLength="13" lengthAdjust="spacing">31</text>
<text x="176" y="200" font-size="11" fill="#000" textLength="13" lengthAdjust="spacing">33</text>
<text x="123" y="196" font-size="11" fill="#000" textLength="13" lengthAdjust="spacing">51</text>
<text x="219" y="206" font-size="11" fill="#000" textLength="13" lengthAdjust="spacing">34</text>
<text x="253" y="196" font-size="11" fill="#000" textLength="13" lengthAdjust="spacing">34</text>
<text x="325" y="192" font-size="11" fill="#000" textLength="13" lengthAdjust="spacing">84</text>
<text x="305" y="206" font-size="11" fill="#000" textLength="13" lengthAdjust="spacing">63</text>
<text x="336" y="205" font-size="11" fill="#000" textLength="13" lengthAdjust="spacing">63</text>
<text x="339" y="218" font-size="11" fill="#000" textLength="13" lengthAdjust="spacing">85</text>
<text x="118" y="228" font-size="11" fill="#000" textLength="13" lengthAdjust="spacing">57</text>
<text x="174" y="235" font-size="11" fill="#000" textLength="13" lengthAdjust="spacing">22</text>
<text x="199" y="245" font-size="11" fill="#000" textLength="13" lengthAdjust="spacing">27</text>
<text x="223" y="249" font-size="11" fill="#000" textLength="13" lengthAdjust="spacing">37</text>
<text x="271" y="249" font-size="11" fill="#000" textLength="13" lengthAdjust="spacing">23</text>
<text x="116" y="251" font-size="11" fill="#000" textLength="13" lengthAdjust="spacing">15</text>
<text x="345" y="250" font-size="11" fill="#000" textLength="13" lengthAdjust="spacing">62</text>
<text x="362" y="252" font-size="11" fill="#000" textLength="13" lengthAdjust="spacing">57</text>
<text x="78" y="265" font-size="11" fill="#000" textLength="13" lengthAdjust="spacing">42</text>
<text x="193" y="269" font-size="11" fill="#000" textLength="13" lengthAdjust="spacing">31</text>
<text x="315" y="266" font-size="11" fill="#000" textLength="13" lengthAdjust="spacing">33</text>
<text x="241" y="277" font-size="11" fill="#000" textLength="13" lengthAdjust="spacing">65</text>
<text x="137" y="277" font-size="11" fill="#000" textLength="13" lengthAdjust="spacing">29</text>
<text x="283" y="283" font-size="11" fill="#000" textLength="13" lengthAdjust="spacing">28</text>
<text x="160" y="289" font-size="11" fill="#000" textLength="13" lengthAdjust="spacing">39</text>
<text x="182" y="295" font-size="11" fill="#000" textLength="13" lengthAdjust="spacing">15</text>
<text x="81" y="299" font-size="11" fill="#000" textLength="13" lengthAdjust="spacing">22</text>
<text x="131" y="302" font-size="11" fill="#000" textLength="13" lengthAdjust="spacing">22</text>
<text x="269" y="306" font-size="11" fill="#000" textLength="13" lengthAdjust="spacing">48</text>
<text x="153" y="310" font-size="11" fill="#000" textLength="13" lengthAdjust="spacing">33</text>
<text x="203" y="309" font-size="11" fill="#000" textLength="13" lengthAdjust="spacing">30</text>
<text x="43" y="320" font-size="11" fill="#000" textLength="13" lengthAdjust="spacing">57</text>
<text x="64" y="326" font-size="11" fill="#000" textLength="13" lengthAdjust="spacing">18</text>
<text x="309" y="323" font-size="11" fill="#000" textLength="13" lengthAdjust="spacing">41</text>
<text x="197" y="329" font-size="11" fill="#000" textLength="13" lengthAdjust="spacing">74</text>
<text x="170" y="344" font-size="11" fill="#000" textLength="13" lengthAdjust="spacing">28</text>
<text x="252" y="350" font-size="11" fill="#000" textLength="13" lengthAdjust="spacing">47</text>
<text x="311" y="349" font-size="11" fill="#000" textLength="13" lengthAdjust="spacing">46</text>
<text x="365" y="334" font-size="11" fill="#000" textLength="13" lengthAdjust="spacing">13</text>
<text x="47" y="359" font-size="11" fill="#000" textLength="16.5" lengthAdjust="spacing">9.9</text>
<text x="232" y="367" font-size="11" fill="#000" textLength="13" lengthAdjust="spacing">37</text>
<text x="185" y="376" font-size="11" fill="#000" textLength="13" lengthAdjust="spacing">26</text>
<text x="310" y="373" font-size="11" fill="#000" textLength="13" lengthAdjust="spacing">30</text>
<text x="345" y="372" font-size="11" fill="#000" textLength="13" lengthAdjust="spacing">27</text>
<text x="278" y="384" font-size="11" fill="#000" textLength="13" lengthAdjust="spacing">31</text>
<text x="260" y="392" font-size="11" fill="#000" textLength="13" lengthAdjust="spacing">28</text>
<text x="184" y="390" font-size="11" fill="#000" textLength="13" lengthAdjust="spacing">64</text>
<text x="216" y="401" font-size="11" fill="#000" textLength="13" lengthAdjust="spacing">29</text>
<text x="299" y="410" font-size="11" fill="#000" textLength="13" lengthAdjust="spacing">14</text>
<text x="207" y="447" font-size="11" fill="#000" textLength="13" lengthAdjust="spacing">34</text>
<text x="405" y="38" font-size="11" fill="#000" textLength="13" lengthAdjust="spacing">13</text>
<text x="426" y="39" font-size="11" fill="#000" textLength="16.5" lengthAdjust="spacing">9.1</text>
<text x="487" y="47" font-size="11" fill="#000" textLength="16.5" lengthAdjust="spacing">9.1</text>
<text x="527" y="57" font-size="11" fill="#000" textLength="16.5" lengthAdjust="spacing">7.2</text>
<text x="362" y="61" font-size="11" fill="#000" textLength="13" lengthAdjust="spacing">15</text>
<text x="369" y="70" font-size="11" fill="#000" textLength="13" lengthAdjust="spacing">15</text>
<text x="414" y="86" font-size="11" fill="#000" textLength="13" lengthAdjust="spacing">16</text>
<text x="470" y="84" font-size="11" fill="#000" textLength="13" lengthAdjust="spacing">25</text>
<text x="520" y="80" font-size="11" fill="#000" textLength="16.5" lengthAdjust="spacing">8.3</text>
<text x="570" y="82" font-size="11" fill="#000" textLength="16.5" lengthAdjust="spacing">5.7</text>
<text x="412" y="97" font-size="11" fill="#000" textLength="13" lengthAdjust="spacing">15</text>
<text x="545" y="96" font-size="11" fill="#000" textLength="13" lengthAdjust="spacing">14</text>
<text x="419" y="108" font-size="11" fill="#000" textLength="13" lengthAdjust="spacing">13</text>
<text x="476" y="109" font-size="11" fill="#000" textLength="13" lengthAdjust="spacing">16</text>
<text x="577" y="106" font-size="11" fill="#000" textLength="13" lengthAdjust="spacing">11</text>
<text x="369" y="139" font-size="11" fill="#000" textLength="13" lengthAdjust="spacing">17</text>
<text x="502" y="131" font-size="11" fill="#000" textLength="13" lengthAdjust="spacing">49</text>
<text x="537" y="135" font-size="11" fill="#000" textLength="13" lengthAdjust="spacing">56</text>
<text x="405" y="150" font-size="11" fill="#000" textLength="13" lengthAdjust="spacing">20</text>
<text x="437" y="144" font-size="11" fill="#000" textLength="13" lengthAdjust="spacing">33</text>
<text x="464" y="152" font-size="11" fill="#000" textLength="13" lengthAdjust="spacing">28</text>
<text x="450" y="163" font-size="11" fill="#000" textLength="13" lengthAdjust="spacing">43</text>
<text x="564" y="162" font-size="11" fill="#000" textLength="13" lengthAdjust="spacing">28</text>
<text x="431" y="175" font-size="11" fill="#000" textLength="13" lengthAdjust="spacing">59</text>
<text x="380" y="185" font-size="11" fill="#000" textLength="13" lengthAdjust="spacing">31</text>
<text x="497" y="184" font-size="11" fill="#000" textLength="13" lengthAdjust="spacing">35</text>
<text x="563" y="186" font-size="11" fill="#000" textLength="13" lengthAdjust="spacing">26</text>
<text x="373" y="198" font-size="11" fill="#000" textLength="13" lengthAdjust="spacing">24</text>
<text x="414" y="194" font-size="11" fill="#000" textLength="13" lengthAdjust="spacing">52</text>
<text x="588" y="195" font-size="11" fill="#000" textLength="13" lengthAdjust="spacing">32</text>
<text x="515" y="208" font-size="11" fill="#000" textLength="13" lengthAdjust="spacing">48</text>
<text x="363" y="224" font-size="11" fill="#000" textLength="13" lengthAdjust="spacing">42</text>
<text x="429" y="218" font-size="11" fill="#000" textLength="13" lengthAdjust="spacing">40</text>
<text x="568" y="219" font-size="11" fill="#000" textLength="13" lengthAdjust="spacing">20</text>
<text x="603" y="220" font-size="11" fill="#000" textLength="13" lengthAdjust="spacing">30</text>
<text x="397" y="233" font-size="11" fill="#000" textLength="13" lengthAdjust="spacing">58</text>
<text x="592" y="235" font-size="11" fill="#000" textLength="13" lengthAdjust="spacing">16</text>
<text x="520" y="241" font-size="11" fill="#000" textLength="13" lengthAdjust="spacing">17</text>
<text x="572" y="244" font-size="11" fill="#000" textLength="13" lengthAdjust="spacing">12</text>
<text x="683" y="232" font-size="11" fill="#000" textLength="16.5" lengthAdjust="spacing">7.2</text>
<text x="426" y="261" font-size="11" fill="#000" textLength="13" lengthAdjust="spacing">35</text>
<text x="465" y="257" font-size="11" fill="#000" textLength="13" lengthAdjust="spacing">19</text>
<text x="429" y="268" font-size="11" fill="#000" textLength="13" lengthAdjust="spacing">22</text>
<text x="424" y="276" font-size="11" fill="#000" textLength="13" lengthAdjust="spacing">25</text>
<text x="517" y="274" font-size="11" fill="#000" textLength="16.5" lengthAdjust="spacing">8.1</text>
<text x="555" y="277" font-size="11" fill="#000" textLength="16.5" lengthAdjust="spacing">1.8</text>
<text x="604" y="272" font-size="11" fill="#000" textLength="16.5" lengthAdjust="spacing">4.8</text>
<text x="683" y="265" font-size="11" fill="#000" textLength="16.5" lengthAdjust="spacing">5.0</text>
<text x="708" y="274" font-size="11" fill="#000" textLength="16.5" lengthAdjust="spacing">1.1</text>
<text x="386" y="289" font-size="11" fill="#000" textLength="13" lengthAdjust="spacing">27</text>
<text x="570" y="285" font-size="11" fill="#000" textLength="16.5" lengthAdjust="spacing">0.7</text>
<text x="623" y="293" font-size="11" fill="#000" textLength="16.5" lengthAdjust="spacing">0.6</text>
<text x="381" y="302" font-size="11" fill="#000" textLength="13" lengthAdjust="spacing">28</text>
<text x="442" y="300" font-size="11" fill="#000" textLength="13" lengthAdjust="spacing">10</text>
<text x="415" y="317" font-size="11" fill="#000" textLength="13" lengthAdjust="spacing">15</text>
<text x="479" y="312" font-size="11" fill="#000" textLength="16.5" lengthAdjust="spacing">0.4</text>
<text x="517" y="310" font-size="11" fill="#000" textLength="16.5" lengthAdjust="spacing">0.1</text>
<text x="592" y="309" font-size="11" fill="#000" textLength="16.5" lengthAdjust="spacing">1.9</text>
<text x="606" y="315" font-size="11" fill="#000" textLength="16.5" lengthAdjust="spacing">0.1</text>
<text x="616" y="324" font-size="11" fill="#000" textLength="16.5" lengthAdjust="spacing">0.5</text>
<text x="646" y="319" font-size="11" fill="#000" textLength="16.5" lengthAdjust="spacing">0.0</text>
<text x="429" y="344" font-size="11" fill="#000" textLength="16.5" lengthAdjust="spacing">0.2</text>
<text x="486" y="339" font-size="11" fill="#000" textLength="16.5" lengthAdjust="spacing">0.1</text>
<text x="586" y="334" font-size="11" fill="#000" textLength="16.5" lengthAdjust="spacing">0.0</text>
<text x="654" y="334" font-size="11" fill="#000" textLength="16.5" lengthAdjust="spacing">0.0</text>
<text x="515" y="357" font-size="11" fill="#000" textLength="16.5" lengthAdjust="spacing">0.0</text>
<text x="446" y="364" font-size="11" fill="#000" textLength="16.5" lengthAdjust="spacing">0.0</text>
<text x="444" y="389" font-size="11" fill="#000" textLength="16.5" lengthAdjust="spacing">0.0</text>
<text x="480" y="379" font-size="11" fill="#000" textLength="16.5" lengthAdjust="spacing">0.0</text>
<text x="485" y="412" font-size="11" fill="#000" textLength="16.5" lengthAdjust="spacing">0.0</text>
<text x="494" y="430" font-size="11" fill="#000" textLength="16.5" lengthAdjust="spacing">0.0</text>
<text x="481" y="449" font-size="11" fill="#000" textLength="16.5" lengthAdjust="spacing">0.0</text>
<path d="M263.0,71.5h7M266.5,68.0v7M307.0,64.5h7M310.5,61.0v7M166.0,97.5h7M169.5,94.0v7M228.0,114.5h7M231.5,111.0v7M307.0,94.5h7M310.5,91.0v7M338.0,105.5h7M341.5,102.0v7M322.0,110.5h7M325.5,107.0v7M295.0,135.5h7M298.5,132.0v7M188.0,151.5h7M191.5,148.0v7M237.0,151.5h7M240.5,148.0v7M327.0,151.5h7M330.5,148.0v7M183.0,162.5h7M186.5,159.0v7M266.0,165.5h7M269.5,162.0v7M143.0,173.5h7M146.5,170.0v7M172.0,181.5h7M175.5,178.0v7M183.0,181.5h7M186.5,178.0v7M167.0,192.5h7M170.5,189.0v7M115.0,194.5h7M118.5,191.0v7M217.0,197.5h7M220.5,194.0v7M245.0,194.5h7M248.5,191.0v7M317.0,190.5h7M320.5,187.0v7M297.0,204.5h7M300.5,201.0v7M328.0,203.5h7M331.5,200.0v7M331.0,216.5h7M334.5,213.0v7M110.0,226.5h7M113.5,223.0v7M166.0,233.5h7M169.5,230.0v7M191.0,243.5h7M194.5,240.0v7M215.0,247.5h7M218.5,244.0v7M263.0,247.5h7M266.5,244.0v7M108.0,249.5h7M111.5,246.0v7M337.0,248.5h7M340.5,245.0v7M354.0,250.5h7M357.5,247.0v7M70.0,263.5h7M73.5,260.0v7M185.0,267.5h7M188.5,264.0v7M307.0,264.5h7M310.5,261.0v7M233.0,275.5h7M236.5,272.0v7M129.0,275.5h7M132.5,272.0v7M275.0,281.5h7M278.5,278.0v7M152.0,287.5h7M155.5,284.0v7M174.0,293.5h7M177.5,290.0v7M73.0,297.5h7M76.5,294.0v7M123.0,300.5h7M126.5,297.0v7M261.0,304.5h7M264.5,301.0v7M145.0,308.5h7M148.5,305.0v7M195.0,307.5h7M198.5,304.0v7M35.0,318.5h7M38.5,315.0v7M56.0,324.5h7M59.5,321.0v7M301.0,321.5h7M304.5,318.0v7M189.0,327.5h7M192.5,324.0v7M162.0,342.5h7M165.5,339.0v7M244.0,348.5h7M247.5,345.0v7M303.0,347.5h7M306.5,344.0v7M357.0,332.5h7M360.5,329.0v7M39.0,358.5h7M42.5,355.0v7M224.0,365.5h7M227.5,362.0v7M177.0,374.5h7M180.5,371.0v7M302.0,371.5h7M305.5,368.0v7M337.0,370.5h7M340.5,367.0v7M270.0,382.5h7M273.5,379.0v7M252.0,390.5h7M255.5,387.0v7M176.0,388.5h7M179.5,385.0v7M208.0,399.5h7M211.5,396.0v7M291.0,408.5h7M294.5,405.0v7M199.0,445.5h7M202.5,442.0v7M397.0,36.5h7M400.5,33.0v7M418.0,37.5h7M421.5,34.0v7M479.0,45.5h7M482.5,42.0v7M519.0,55.5h7M522.5,52.0v7M354.0,59.5h7M357.5,56.0v7M361.0,68.5h7M364.5,65.0v7M406.0,84.5h7M409.5,81.0v7M462.0,82.5h7M465.5,79.0v7M512.0,78.5h7M515.5,75.0v7M562.0,80.5h7M565.5,77.0v7M404.0,95.5h7M407.5,92.0v7M537.0,94.5h7M540.5,91.0v7M411.0,106.5h7M414.5,103.0v7M468.0,107.5h7M471.5,104.0v7M569.0,104.5h7M572.5,101.0v7M361.0,137.5h7M364.5,134.0v7M494.0,129.5h7M497.5,126.0v7M529.0,133.5h7M532.5,130.0v7M397.0,148.5h7M400.5,145.0v7M429.0,142.5h7M432.5,139.0v7M456.0,150.5h7M459.5,147.0v7M442.0,161.5h7M445.5,158.0v7M556.0,160.5h7M559.5,157.0v7M423.0,173.5h7M426.5,170.0v7M372.0,183.5h7M375.5,180.0v7M489.0,182.5h7M492.5,179.0v7M555.0,184.5h7M558.5,181.0v7M365.0,196.5h7M368.5,193.0v7M406.0,192.5h7M409.5,189.0v7M580.0,193.5h7M583.5,190.0v7M507.0,206.5h7M510.5,203.0v7M355.0,222.5h7M358.5,219.0v7M421.0,216.5h7M424.5,213.0v7M560.0,217.5h7M563.5,214.0v7M602.0,224.5h7M605.5,221.0v7M389.0,231.5h7M392.5,228.0v7M584.0,233.5h7M587.5,230.0v7M512.0,239.5h7M515.5,236.0v7M564.0,242.5h7M567.5,239.0v7M675.0,230.5h7M678.5,227.0v7M418.0,259.5h7M421.5,256.0v7M457.0,255.5h7M460.5,252.0v7M421.0,266.5h7M424.5,263.0v7M416.0,274.5h7M419.5,271.0v7M509.0,272.5h7M512.5,269.0v7M547.0,275.5h7M550.5,272.0v7M596.0,270.5h7M599.5,267.0v7M675.0,263.5h7M678.5,260.0v7M700.0,272.5h7M703.5,269.0v7M378.0,287.5h7M381.5,284.0v7M562.0,283.5h7M565.5,280.0v7M615.0,291.5h7M618.5,288.0v7M373.0,300.5h7M376.5,297.0v7M434.0,298.5h7M437.5,295.0v7M407.0,315.5h7M410.5,312.0v7M471.0,310.5h7M474.5,307.0v7M509.0,308.5h7M512.5,305.0v7M584.0,307.5h7M587.5,304.0v7M598.0,313.5h7M601.5,310.0v7M607.0,316.5h7M610.5,313.0v7M638.0,317.5h7M641.5,314.0v7M421.0,342.5h7M424.5,339.0v7M478.0,337.5h7M481.5,334.0v7M578.0,332.5h7M581.5,329.0v7M646.0,332.5h7M649.5,329.0v7M507.0,355.5h7M510.5,352.0v7M450.0,369.5h7M453.5,366.0v7M449.0,375.5h7M452.5,372.0v7M472.0,377.5h7M475.5,374.0v7M477.0,410.5h7M480.5,407.0v7M486.0,428.5h7M489.5,425.0v7M473.0,447.5h7M476.5,444.0v7" stroke="#000" stroke-width="1" fill="none" shape-rendering="crispEdges"/>
<text x="5.5" y="492" font-size="16" fill="#000" textLength="89" lengthAdjust="spacing">23.12.2022</text>
<text x="105" y="492" font-size="16" fill="#000" textLength="39" lengthAdjust="spacing">1000</text>
<text x="153" y="492" font-size="16" fill="#000" textLength="27" lengthAdjust="spacing">Uhr</text>
<text x="197.5" y="492" font-size="16" fill="#000" textLength="20" lengthAdjust="spacing">bis</text>
<text x="235" y="492" font-size="16" fill="#000" textLength="89" lengthAdjust="spacing">24.12.2022</text>
<text x="334" y="492" font-size="16" fill="#000" textLength="39" lengthAdjust="spacing">1000</text>
<text x="382" y="492" font-size="16" fill="#000" textLength="27" lengthAdjust="spacing">Uhr</text>
<text x="608" y="492" font-size="16" fill="#000" textLength="46" lengthAdjust="spacing">Letzte</text>
<text x="663" y="492" font-size="16" fill="#000" textLength="19" lengthAdjust="spacing">24</text>
<text x="691" y="492" font-size="16" fill="#000" textLength="30" lengthAdjust="spacing">Std.</text>
<g shape-rendering="crispEdges">
<g clip-path="url(#tc)"><rect x="-40" y="470" width="260" height="120" fill="#ccc" filter="url(#rl)" transform="rotate(-35 76 510)"/></g>
<rect x="4" y="522" width="144" height="23" fill="#a9bcff"/>
<rect x="4" y="545" width="144" height="23" fill="#6f8fff"/>
<rect x="4" y="568" width="144" height="23" fill="#2d5aff"/>
<rect x="148" y="499" width="144" height="23" fill="#aaff5a"/>
<rect x="148" y="522" width="144" height="23" fill="#00e100"/>
<rect x="148" y="545" width="144" height="23" fill="#00b400"/>
<rect x="148" y="568" width="144" height="23" fill="#008700"/>
<rect x="292" y="499" width="144" height="23" fill="#ffff00"/>
<rect x="292" y="522" width="144" height="23" fill="#ffc80a"/>
<rect x="292" y="545" width="144" height="23" fill="#ffa500"/>
<rect x="292" y="568" width="144" height="23" fill="#ff7d00"/>
<rect x="436" y="499" width="144" height="23" fill="#d76e00"/>
<rect x="436" y="522" width="144" height="23" fill="#ff0000"/>
<rect x="436" y="545" width="144" height="23" fill="#b40000"/>
<rect x="436" y="568" width="144" height="23" fill="#820000"/>
<rect x="580" y="499" width="144" height="23" fill="#ff50ff"/>
<rect x="580" y="522" width="144" height="23" fill="#ff00ff"/>
<rect x="580" y="545" width="144" height="23" fill="#b4008c"/>
<rect x="580" y="568" width="144" height="23" fill="#8200ff"/>
</g>
<path d="M30,499L32,506L32.5,514L33,522M128.5,499L131,507L126,515L120,522" stroke="#6f8fff" stroke-width="1" fill="none"/>
<text x="48" y="515" font-size="12.5" fill="#000" textLength="51" lengthAdjust="spacing">Trocken</text>
<text y="538" font-size="12" fill="#000"><tspan x="30.20">0.0</tspan> <tspan x="66.66">0.2</tspan> <tspan x="90.92">mm</tspan></text>
<text transform="translate(55.41 538) scale(1.55 1)" font-size="12" fill="#000">-</text>
<text y="561" font-size="12" fill="#fff"><tspan x="30.20">0.2</tspan> <tspan x="66.66">0.5</tspan> <tspan x="90.92">mm</tspan></text>
<text transform="translate(55.41 561) scale(1.55 1)" font-size="12" fill="#fff">-</text>
<text y="584" font-size="12" fill="#fff"><tspan x="30.20">0.5</tspan> <tspan x="66.66">1.0</tspan> <tspan x="90.92">mm</tspan></text>
<text transform="translate(55.41 584) scale(1.55 1)" font-size="12" fill="#fff">-</text>
<text y="515" font-size="12" fill="#000"><tspan x="185.20">1</tspan> <tspan x="210.23">2</tspan> <tspan x="223.06">mm</tspan></text>
<text transform="translate(198.98 515) scale(1.55 1)" font-size="12" fill="#000">-</text>
<text y="538" font-size="12" fill="#000"><tspan x="185.20">2</tspan> <tspan x="210.23">4</tspan> <tspan x="223.06">mm</tspan></text>
<text transform="translate(198.98 538) scale(1.55 1)" font-size="12" fill="#000">-</text>
<text y="561" font-size="12" fill="#fff"><tspan x="185.20">4</tspan> <tspan x="210.23">7</tspan> <tspan x="223.06">mm</tspan></text>
<text transform="translate(198.98 561) scale(1.55 1)" font-size="12" fill="#fff">-</text>
<text y="584" font-size="12" fill="#fff"><tspan x="185.20">7</tspan> <tspan x="210.23">10</tspan> <tspan x="230.69">mm</tspan></text>
<text transform="translate(198.98 584) scale(1.55 1)" font-size="12" fill="#fff">-</text>
<text y="515" font-size="12" fill="#000"><tspan x="323.70">10</tspan> <tspan x="356.36">20</tspan> <tspan x="376.82">mm</tspan></text>
<text transform="translate(345.11 515) scale(1.55 1)" font-size="12" fill="#000">-</text>
<text y="538" font-size="12" fill="#000"><tspan x="323.70">20</tspan> <tspan x="356.36">40</tspan> <tspan x="376.82">mm</tspan></text>
<text transform="translate(345.11 538) scale(1.55 1)" font-size="12" fill="#000">-</text>
<text y="561" font-size="12" fill="#fff"><tspan x="323.70">40</tspan> <tspan x="356.36">70</tspan> <tspan x="376.82">mm</tspan></text>
<text transform="translate(345.11 561) scale(1.55 1)" font-size="12" fill="#fff">-</text>
<text y="584" font-size="12" fill="#fff"><tspan x="323.70">70</tspan> <tspan x="356.36">100</tspan> <tspan x="384.45">mm</tspan></text>
<text transform="translate(345.11 584) scale(1.55 1)" font-size="12" fill="#fff">-</text>
<text y="515" font-size="12" fill="#000"><tspan x="461.70">100</tspan> <tspan x="501.99">150</tspan> <tspan x="530.08">mm</tspan></text>
<text transform="translate(490.74 515) scale(1.55 1)" font-size="12" fill="#000">-</text>
<text y="538" font-size="12" fill="#000"><tspan x="461.70">150</tspan> <tspan x="501.99">200</tspan> <tspan x="530.08">mm</tspan></text>
<text transform="translate(490.74 538) scale(1.55 1)" font-size="12" fill="#000">-</text>
<text y="561" font-size="12" fill="#fff"><tspan x="461.70">200</tspan> <tspan x="501.99">250</tspan> <tspan x="530.08">mm</tspan></text>
<text transform="translate(490.74 561) scale(1.55 1)" font-size="12" fill="#fff">-</text>
<text y="584" font-size="12" fill="#fff"><tspan x="461.70">250</tspan> <tspan x="501.99">300</tspan> <tspan x="530.08">mm</tspan></text>
<text transform="translate(490.74 584) scale(1.55 1)" font-size="12" fill="#fff">-</text>
<text y="515" font-size="12" fill="#000"><tspan x="604.20">300</tspan> <tspan x="644.49">350</tspan> <tspan x="672.58">mm</tspan></text>
<text transform="translate(633.24 515) scale(1.55 1)" font-size="12" fill="#000">-</text>
<text y="538" font-size="12" fill="#000"><tspan x="604.20">350</tspan> <tspan x="644.49">400</tspan> <tspan x="672.58">mm</tspan></text>
<text transform="translate(633.24 538) scale(1.55 1)" font-size="12" fill="#000">-</text>
<text y="561" font-size="12" fill="#fff"><tspan x="604.20">400</tspan> <tspan x="644.49">450</tspan> <tspan x="672.58">mm</tspan></text>
<text transform="translate(633.24 561) scale(1.55 1)" font-size="12" fill="#fff">-</text>
<text y="584" font-size="12" fill="#fff"><tspan x="604.20">450</tspan> <tspan x="644.49">500</tspan> <tspan x="672.58">mm</tspan></text>
<text transform="translate(633.24 584) scale(1.55 1)" font-size="12" fill="#fff">-</text>
<rect x="4.5" y="499.5" width="719" height="91" fill="none" stroke="#777" stroke-width="1" shape-rendering="crispEdges"/>
<circle cx="13.2" cy="607.3" r="8.3" fill="none" stroke="#303030" stroke-width="1.2"/>
<text x="8.2" y="612" font-size="13" fill="#303030" style="font-weight:700">C</text>
<text x="27" y="612" font-size="12" fill="#303030" textLength="32" lengthAdjust="spacing">2014</text>
<text x="68" y="612" font-size="12" fill="#303030" textLength="72" lengthAdjust="spacing">meteoradar</text>
<text x="207.5" y="612" font-size="12" fill="#303030" textLength="80" lengthAdjust="spacing">Datenquelle:</text>
<text x="295.5" y="612" font-size="12" fill="#303030" textLength="94" lengthAdjust="spacing">MeteoSchweiz</text>
<text x="510" y="612" font-size="12.5" fill="#000" textLength="76" lengthAdjust="spacing">Vorhandene</text>
<text x="593" y="612" font-size="12.5" fill="#000" textLength="66" lengthAdjust="spacing">Rohdaten:</text>
<text x="667" y="612" font-size="12.5" fill="#000" textLength="57" lengthAdjust="spacing">144/144</text>
</svg></body></html>
